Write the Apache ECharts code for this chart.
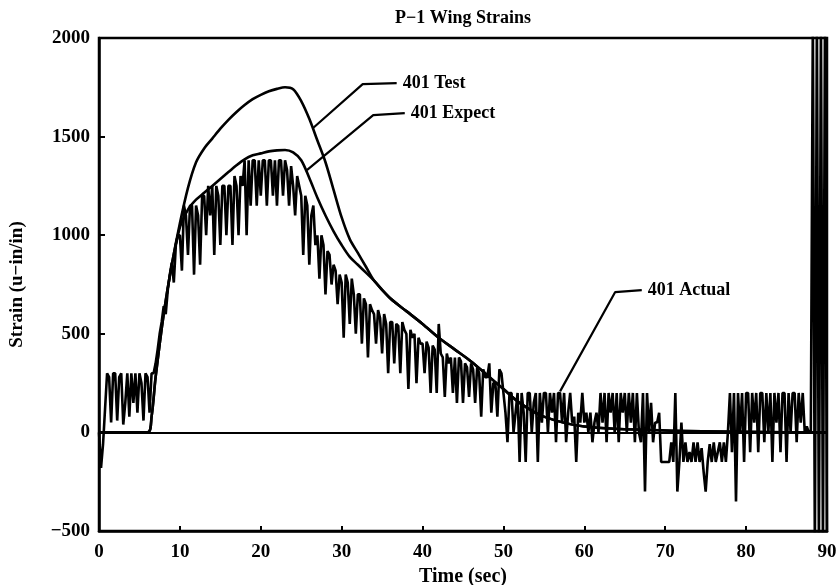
<!DOCTYPE html>
<html>
<head>
<meta charset="utf-8">
<script src="https://cdn.jsdelivr.net/npm/echarts@6/dist/echarts.min.js"></script>
<style>
  html, body { margin: 0; padding: 0; background: #fff; }
  #chart { width: 836px; height: 585px; }
</style>
</head>
<body>
<div id="chart"></div>
<script>
// smooth model curves, sampled by hand
const modelTime = [0, 6, 6.5, 7, 8, 9, 10, 11, 12, 13, 14, 15, 16, 17, 18, 19, 20, 21, 22, 23, 24, 25, 26, 27, 28, 29, 30, 31, 32, 33, 34, 36, 38, 40, 42, 44, 46, 48, 50, 52, 55, 60, 70, 90];
const testStrain = [0, 0, 80, 280, 600, 850, 1060, 1240, 1370, 1440, 1490, 1540, 1585, 1625, 1660, 1690, 1712, 1730, 1742, 1750, 1740, 1680, 1590, 1480, 1370, 1230, 1090, 980, 910, 840, 770, 680, 615, 550, 480, 420, 360, 290, 220, 150, 80, 30, 10, 0];
const expectStrain = [0, 0, 80, 280, 600, 850, 1040, 1130, 1180, 1215, 1250, 1285, 1320, 1355, 1385, 1405, 1415, 1425, 1430, 1432, 1420, 1380, 1290, 1190, 1100, 1020, 950, 890, 850, 810, 770, 680, 615, 550, 480, 420, 360, 290, 220, 150, 80, 30, 10, 0];

// measured gauge, one row per second, 0.25 s apart
const actualStep = 0.25;
const actualStrain = [
  0, -180, -60, 120,
  300, 280, 50, 300,
  300, 60, 280, 300,
  40, 150, 300, 80,
  300, 150, 300, 100,
  300, 250, 60, 300,
  280, 100, 300, 300,
  350, 420, 500, 560,
  640, 600, 720, 800,
  860, 760, 950, 1000,
  1000, 820, 1150, 1100,   // 10
  900, 1150, 1150, 800,
  1150, 1100, 850, 1200,
  1200, 1000, 1250, 1100,
  1250, 900, 1250, 1200,
  950, 1250, 1250, 1000,
  1250, 1250, 950, 1300,
  1250, 1000, 1300, 1250,
  1380, 1000, 1380, 1150,
  1380, 1380, 1150, 1380,
  1200, 1380, 1380, 1150,  // 20
  1380, 1380, 1200, 1380,
  1150, 1380, 1380, 1200,
  1380, 1330, 1150, 1350,
  1250, 1100, 1300, 1250,
  1200, 900, 1200, 1150,
  850, 1100, 1150, 950,
  1000, 780, 1000, 950,
  700, 920, 900, 750,
  850, 820, 650, 800,
  760, 480, 800, 760,      // 30
  550, 780, 700, 500,
  700, 700, 450, 680,
  650, 380, 650, 620,
  600, 450, 620, 580,
  400, 600, 550, 300,
  560, 560, 350, 550,
  540, 300, 560, 520,
  500, 220, 520, 480,
  500, 250, 480, 450,
  450, 300, 460, 430,      // 40
  200, 440, 420, 200,
  550, 400, 380, 180,
  400, 350, 380, 200,
  380, 150, 380, 360,
  150, 350, 330, 180,
  350, 320, 150, 330,
  300, 80, 320, 280,
  280, 350, 100, 250,
  250, 80, 320, 300,
  200, 100, -50, 200,      // 50
  200, 0, 100, 200,
  -150, 200, 100, -150,
  200, 200, 0, 150,
  200, -150, 200, 50,
  200, 200, 0, 200,
  100, 200, -50, 200,
  200, 50, 200, -50,
  100, 200, 50, 80,
  -150, 100, 50, 200,
  50, 100, 0, 100,         // 60
  -50, 50, 100, 0,
  200, 50, 200, -50,
  200, 100, 200, 0,
  200, -50, 200, 100,
  200, 0, 200, 50,
  200, -50, 200, 0,
  -50, 200, -300, 200,
  0, 150, -50, 50,
  50, 100, -150, -150,
  -150, -150, -150, -50,   // 70
  -150, 200, -300, -150,
  50, -150, -50, -150,
  -100, -150, -50, -150,
  -50, -150, -80, -200,
  -300, -150, -60, -150,
  -50, -150, -100, -50,
  -150, -50, -150, 0,
  200, -100, 200, -350,
  200, 0, 200, -150,
  200, 200, -100, 200,     // 80
  50, 200, -100, 200,
  200, -50, 200, 0,
  200, -150, 200, 50,
  200, -100, 200, 200,
  -150, 200, 0, 200,
  200, -50, 200, 50,
  200, 0, 30, 0,
  0, 2100, -600, 2100,
  -600, 2100, -600, 2100,
  -600                     // 90
];

// callout leaders (time, strain)
const testLeader = [[26.5, 1545], [32.6, 1766], [36.8, 1771]];
const expectLeader = [[25.7, 1330], [33.9, 1609], [37.8, 1619]];
const actualLeader = [[57, 208], [63.8, 711], [67.1, 721]];

const xTicks = { min: 0, max: 90, interval: 10 };
const yTicks = { min: -500, max: 2000, interval: 500 };

const font = 'Liberation Serif, Times New Roman, serif';

const chart = echarts.init(document.getElementById('chart'));

function leaderSeries(name, data, text) {
  return {
    name: name,
    type: 'line',
    data: data,
    symbol: 'none',
    silent: true,
    lineStyle: { color: '#000', width: 2.2 },
    endLabel: {
      show: true,
      formatter: text,
      distance: 6,
      color: '#000',
      fontFamily: font,
      fontWeight: 'bold',
      fontSize: 18
    },
    z: 5
  };
}

chart.setOption({
  animation: false,
  backgroundColor: '#fff',
  title: {
    text: 'P\u22121 Wing Strains',
    left: 390,
    top: 4,
    textStyle: { fontFamily: font, fontWeight: 'bold', fontSize: 18, color: '#000' }
  },
  grid: {
    left: 99,
    right: 9,
    top: 38,
    bottom: 54,
    outerBoundsMode: 'none',
    show: true,
    borderColor: '#000',
    borderWidth: 2.5
  },
  xAxis: {
    type: 'value',
    min: xTicks.min,
    max: xTicks.max,
    interval: xTicks.interval,
    name: 'Time (sec)',
    nameLocation: 'middle',
    nameGap: 35,
    nameTextStyle: { fontFamily: font, fontWeight: 'bold', fontSize: 20, color: '#000' },
    axisLine: { onZero: false, lineStyle: { color: '#000', width: 2.5 } },
    axisTick: { inside: true, length: 5, lineStyle: { color: '#000', width: 2 } },
    axisLabel: { margin: 12, fontFamily: font, fontWeight: 'bold', fontSize: 19, color: '#000' },
    splitLine: { show: false }
  },
  yAxis: {
    type: 'value',
    min: yTicks.min,
    max: yTicks.max,
    interval: yTicks.interval,
    name: 'Strain (u\u2212in/in)',
    nameLocation: 'middle',
    nameGap: 72,
    nameTextStyle: { fontFamily: font, fontWeight: 'bold', fontSize: 19, color: '#000' },
    axisLine: { lineStyle: { color: '#000', width: 2.5 } },
    axisTick: { inside: true, length: 6, lineStyle: { color: '#000', width: 2 } },
    axisLabel: {
      margin: 9,
      fontFamily: font,
      fontWeight: 'bold',
      fontSize: 19,
      color: '#000',
      formatter: v => String(v).replace('-', '\u2212')
    },
    splitLine: { show: false }
  },
  series: [
    {
      name: '401 Actual',
      type: 'line',
      data: actualStrain.map((v, i) => [i * actualStep, v]),
      symbol: 'none',
      lineStyle: { color: '#000', width: 2.6 },
      markLine: {
        silent: true,
        symbol: 'none',
        label: { show: false },
        lineStyle: { color: '#000', width: 2.2, type: 'solid' },
        data: [{ yAxis: 0 }]
      },
      z: 3
    },
    {
      name: '401 Test',
      type: 'line',
      data: modelTime.map((t, i) => [t, testStrain[i]]),
      smooth: 0.3,
      symbol: 'none',
      lineStyle: { color: '#000', width: 2.6 },
      z: 4
    },
    {
      name: '401 Expect',
      type: 'line',
      data: modelTime.map((t, i) => [t, expectStrain[i]]),
      smooth: 0.3,
      symbol: 'none',
      lineStyle: { color: '#000', width: 2.6 },
      z: 4
    },
    leaderSeries('testLeader', testLeader, '401 Test'),
    leaderSeries('expectLeader', expectLeader, '401 Expect'),
    leaderSeries('actualLeader', actualLeader, '401 Actual')
  ]
});
</script>
</body>
</html>
